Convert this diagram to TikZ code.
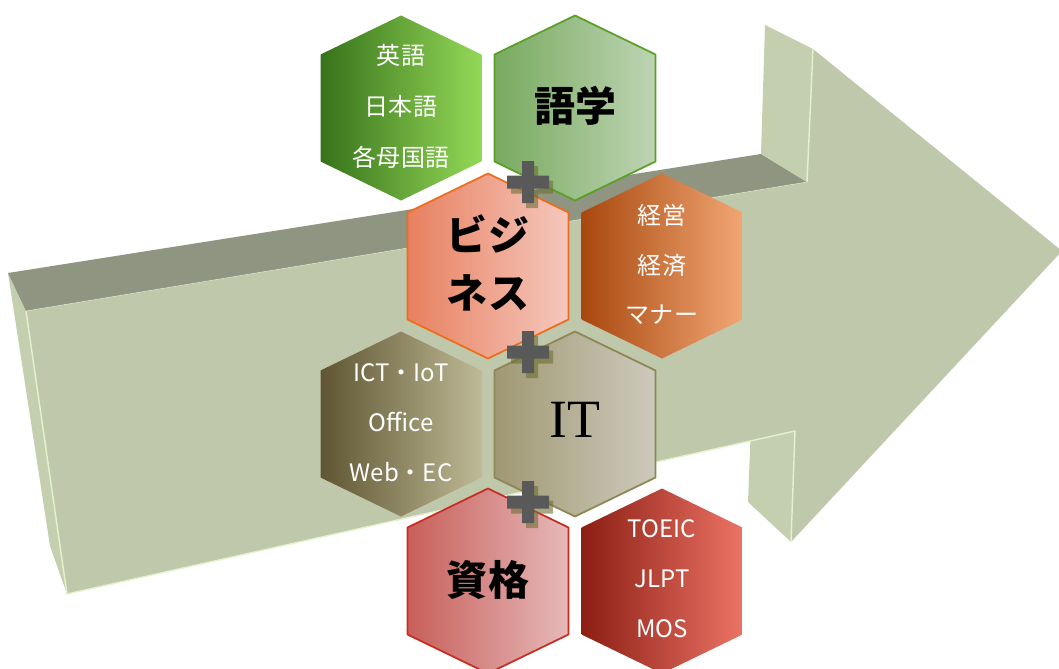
\documentclass[tikz,border=0pt]{standalone}
\usepackage{fontspec}
\newfontfamily\jpfont{Noto Sans CJK JP}
\newfontfamily\serifit{Liberation Serif}

% colours of the 3D arrow
\definecolor{arrowfront}{HTML}{BFC8AA}
\definecolor{arrowtop}{HTML}{8F9580}
\definecolor{arrowside}{HTML}{C4CFB0}
\definecolor{arrowedge}{HTML}{E4F2CE}
% colours of the hexagons
\definecolor{grnA}{HTML}{37731A}\definecolor{grnB}{HTML}{5CAA2E}\definecolor{grnC}{HTML}{94D858}
\definecolor{lanA}{HTML}{78AA5F}\definecolor{lanC}{HTML}{BED4B4}\definecolor{lanD}{HTML}{5AA028}
\definecolor{orgA}{HTML}{A8480F}\definecolor{orgB}{HTML}{E96D1E}\definecolor{orgC}{HTML}{F2A673}
\definecolor{busA}{HTML}{E8805F}\definecolor{busC}{HTML}{F5C8BE}\definecolor{busD}{HTML}{EB6E1E}
\definecolor{brnA}{HTML}{5F5532}\definecolor{brnB}{HTML}{978C5F}\definecolor{brnC}{HTML}{BEB996}
\definecolor{itA}{HTML}{A09873}\definecolor{itC}{HTML}{CDCABC}\definecolor{itD}{HTML}{8C8755}
\definecolor{redA}{HTML}{8C1E14}\definecolor{redB}{HTML}{D23223}\definecolor{redC}{HTML}{EB7364}
\definecolor{quaA}{HTML}{C85F5A}\definecolor{quaC}{HTML}{E6B9B9}\definecolor{quaD}{HTML}{C82D23}
\definecolor{plusgray}{HTML}{595959}
\definecolor{plusshadow}{HTML}{6E6E32}

% hexagon with pointed top, centred at (#1,#2)
\newcommand{\hexa}[3]{%
  \path[#3] (#1,#2) ++(0,-92.5) -- ++(80.5,39) -- ++(0,107) -- ++(-80.5,39)
    -- ++(-80.5,-39) -- ++(0,-107) -- cycle;}

% plus sign with its shadow, centred at (#1,#2)
\newcommand{\plusmark}[2]{%
  \fill[plusshadow, opacity=0.6] (#1+4-21,#2+5-6.5) rectangle (#1+4+21,#2+5+6.5)
                                 (#1+4-6,#2+5-21) rectangle (#1+4+6,#2+5+21);
  \fill[plusgray] (#1-21,#2-6.5) rectangle (#1+21,#2+6.5)
                  (#1-6,#2-21) rectangle (#1+6,#2+21);}

\tikzset{
  subhex/.style={draw=none},
  titlehex/.style={line width=1.5pt},
  subtext/.style={text=white, inner sep=0pt, text height=0.8em, text depth=0.2em,
    yshift=-5pt, font=\jpfont\fontsize{20.5}{20.5}\selectfont},
  titletext/.style={text=black, inner sep=0pt,
    font=\jpfont\bfseries\fontsize{35}{35}\selectfont}
}

\begin{document}
\begin{tikzpicture}[x=0.03cm, y=-0.03cm, line join=round]
    \useasboundingbox (0,0) rectangle (1059,668);

    % Corners of the arrow (pixel grid, y downwards)
    \coordinate (BTL) at (8,273);
    \coordinate (FTL) at (26,311);
    \coordinate (BBL) at (50,546);
    \coordinate (FBL) at (67,594);
    \coordinate (BTS) at (761,154);
    \coordinate (FTS) at (807,182);
    \coordinate (BUB) at (765,25);
    \coordinate (FUB) at (813,49);
    \coordinate (TIP) at (1062,251);
    \coordinate (FLB) at (791,542);
    \coordinate (BLB) at (748,502);
    \coordinate (FBS) at (795,431);
    \coordinate (BBS) at (751,425);

    % Faces of the arrow
    \fill[arrowside] (BTL) -- (FTL) -- (FBL) -- (BBL) -- cycle;
    \fill[arrowtop] (BTL) -- (BTS) -- (FTS) -- (FTL) -- cycle;
    \fill[arrowside] (BUB) -- (FUB) -- (FTS) -- (BTS) -- cycle;
    \fill[arrowside] (BBS) -- (FBS) -- (FLB) -- (BLB) -- cycle;
    \fill[arrowfront] (FTL) -- (FTS) -- (FUB) -- (TIP) -- (FLB) -- (FBS) -- (FBL) -- cycle;

    % light edges
    \draw[arrowedge, line width=1.2pt] (FTL) -- (FBL) -- (FBS) -- (FLB);
    \draw[arrowedge, line width=1.2pt] (FTS) -- (FUB);
    \draw[arrowedge, line width=0.6pt, opacity=0.5] (FTL) -- (FTS);

    % Row 1: language
    \hexa{401}{108}{subhex, left color=grnA, middle color=grnB, right color=grnC}
    \hexa{575}{108}{titlehex, draw=lanD, left color=lanA, right color=lanC}
    % Row 2: business
    \hexa{488}{266}{titlehex, draw=busD, left color=busA, right color=busC}
    \hexa{662}{266}{subhex, left color=orgA, middle color=orgB, right color=orgC}
    % Row 3: IT
    \hexa{401}{424}{subhex, left color=brnA, middle color=brnB, right color=brnC}
    \hexa{575}{424}{titlehex, draw=itD, left color=itA, right color=itC}
    % Row 4: qualifications
    \hexa{488}{581}{titlehex, draw=quaD, left color=quaA, right color=quaC}
    \hexa{662}{581}{subhex, left color=redA, middle color=redB, right color=redC}

    % Titles
    \node[titletext] (gogaku) at (575,106) {語学};
    \node[titletext] (bizA) at (488,234) {ビジ};
    \node[titletext] (bizB) at (488,293) {ネス};
    \node[titletext, font=\serifit\fontsize{46}{46}\selectfont] (it) at (575,420) {IT};
    \node[titletext] (shikaku) at (488,580) {資格};

    % Contents
    \node[subtext] (eigo) at (401,55) {英語};
    \node[subtext] (nihongo) at (401,106) {日本語};
    \node[subtext] (bokokugo) at (401,157) {各母国語};
    \node[subtext] (keiei) at (662,215) {経営};
    \node[subtext] (keizai) at (662,265) {経済};
    \node[subtext] (manner) at (662,314) {マナー};
    \node[subtext] (ict) at (401,372) {ICT・IoT};
    \node[subtext] (office) at (401,422) {Office};
    \node[subtext] (web) at (401,472) {Web・EC};
    \node[subtext] (toeic) at (662,528) {TOEIC};
    \node[subtext] (jlpt) at (662,578) {JLPT};
    \node[subtext] (mos) at (662,628) {MOS};

    % Plus signs between the titles
    \plusmark{528}{182}
    \plusmark{528}{352}
    \plusmark{528}{502}

\end{tikzpicture}
\end{document}
